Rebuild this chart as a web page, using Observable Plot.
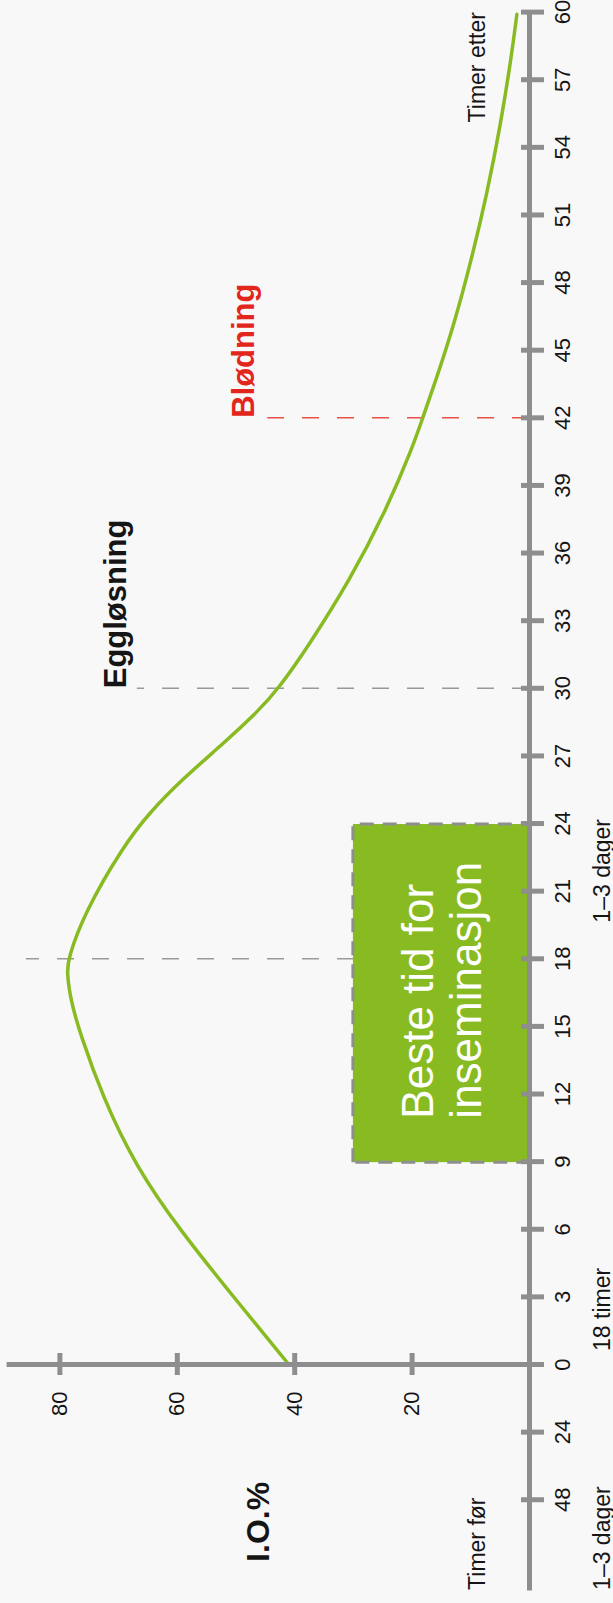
<!DOCTYPE html>
<html>
<head>
<meta charset="utf-8">
<script src="https://cdn.jsdelivr.net/npm/d3@7"></script>
<script src="https://cdn.jsdelivr.net/npm/@observablehq/plot@0.6"></script>
<style>
  html, body { margin: 0; padding: 0; background: #f8f8f8; width: 613px; height: 1603px; overflow: hidden; }
  #chart { position: absolute; left: 0; top: 0; width: 1603px; height: 613px;
           transform-origin: 0 0; transform: translate(0, 1603px) rotate(-90deg); }
</style>
</head>
<body>
<div id="chart"></div>
<script>
// ---- data ----
const hours = [0, 2.9, 5.9, 8.8, 11.8, 14.7, 16.2, 17.4, 18, 20, 23, 24.5, 26, 27.4, 28.9, 30, 31.9, 34.8, 37.8, 40.7, 42, 43.7, 46.1, 49, 52, 54.9, 57.9, 59.9];
const io    = [41, 50.1, 59.4, 67.1, 72.6, 76.6, 78.2, 78.8, 78.6, 75.9, 69.2, 64.7, 59.0, 52.8, 46.5, 42.7, 37.6, 30.6, 24.6, 19.9, 18.2, 15.9, 12.9, 9.9, 7.2, 5.0, 3.15, 2.15];

const hourTicks      = [-6, -3, 0, 3, 6, 9, 12, 15, 18, 21, 24, 27, 30, 33, 36, 39, 42, 45, 48, 51, 54, 57, 60];
const hourTickLabels = ["48", "24", "0", "3", "6", "9", "12", "15", "18", "21", "24", "27", "30", "33", "36", "39", "42", "45", "48", "51", "54", "57", "60"];
const ioTicks        = [20, 40, 60, 80];
const hourDomain     = [-10, 60];
const ioAxisTop      = 89;

const eventHours  = [18, 30, 42];
const eventTops   = [85.7, 66.8, 44.6];
const eventLabels = ["", "Eggløsning", "Blødning"];

const windowRange = [9, 24];
const windowTop   = 30;
const windowText  = "Beste tid for\ninseminasjon";

const periodLabels = ["1–3 dager", "18 timer", "1–3 dager"];
const periodAt     = [-10, 0.6, 24.2];
const periodAnchor = ["start", "start", "end"];

// ---- tables ----
const curve = hours.map((h, i) => ({hour: h, io: io[i]}));
const events = eventHours.map((h, i) => ({hour: h, top: eventTops[i], label: eventLabels[i]}));
const tickLabel = new Map(hourTicks.map((t, i) => [t, hourTickLabels[i]]));
const periods = periodLabels.map((t, i) => ({text: t, hour: periodAt[i], anchor: periodAnchor[i]}));

const grey = "#8e8e8e";
const green = "#88bb22";
const red = "#e3261b";
const ink = "#151515";
const font = "'Liberation Sans', Arial, Helvetica, sans-serif";

const chart = Plot.plot({
  width: 1603,
  height: 613,
  marginLeft: 250,
  marginBottom: 92,
  marginTop: 0,
  marginRight: 0,
  style: {background: "#f8f8f8", fontFamily: font, overflow: "visible"},
  x: {domain: hourDomain, range: [12.6, 1590.4]},
  y: {domain: [0, 80], range: [529, 59.4]},
  marks: [
    // event lines
    Plot.ruleX(events.filter(d => d.hour !== 42), {x: "hour", y1: 0, y2: "top", stroke: "#999", strokeWidth: 1.5, strokeDasharray: "17,18"}),
    Plot.ruleX(events.filter(d => d.hour === 42), {x: "hour", y1: 0, y2: "top", stroke: red, strokeOpacity: 0.8, strokeWidth: 1.5, strokeDasharray: "17,18"}),
    Plot.text(events.filter(d => d.label === "Eggløsning"), {x: "hour", y: "top", text: "label", textAnchor: "start", lineAnchor: "middle", dy: -21, fontSize: 31, fontWeight: "bold", fill: ink}),
    Plot.text(events.filter(d => d.label === "Blødning"), {x: "hour", y: "top", text: "label", textAnchor: "start", lineAnchor: "middle", dy: -24, fontSize: 31, fontWeight: "bold", fill: red}),
    // insemination window
    Plot.rect([{x1: windowRange[0], x2: windowRange[1], y1: 0, y2: windowTop}], {x1: "x1", x2: "x2", y1: "y1", y2: "y2", fill: green, stroke: grey, strokeWidth: 3, strokeDasharray: "14,9"}),
    Plot.text([windowText], {x: windowRange[0], y: windowTop / 2, text: d => d, textAnchor: "start", lineAnchor: "middle", dx: 43, fontSize: 44, lineHeight: 48 / 44, fill: "white", ariaLabel: "window-label"}),
    // curve
    Plot.line(curve, {x: "hour", y: "io", stroke: green, strokeWidth: 3.5, curve: "basis"}),
    // axes lines
    Plot.ruleY([0], {x1: hourDomain[0], x2: hourDomain[1], stroke: grey, strokeWidth: 5}),
    Plot.ruleX([0], {y1: 0, y2: ioAxisTop, stroke: grey, strokeWidth: 5}),
    Plot.axisX({ticks: hourTicks, tickFormat: d => tickLabel.get(d), anchor: "bottom", tickSize: 23, tickPadding: 10, fontSize: 22, stroke: grey, strokeWidth: 5, color: ink, fill: ink, label: null}),
    Plot.axisY({ticks: ioTicks, anchor: "left", tickSize: 22, tickPadding: 17, fontSize: 22, stroke: grey, strokeWidth: 5, color: ink, fill: ink, label: null}),
    // side labels
    Plot.text(["I.O.%"], {x: hourDomain[0], y: 0, text: d => d, textAnchor: "start", lineAnchor: "middle", dx: 28, dy: -271, fontSize: 32, fontWeight: "bold", fill: ink}),
    Plot.text(["Timer før"], {x: hourDomain[0], y: 0, text: d => d, textAnchor: "start", lineAnchor: "middle", dy: -52, fontSize: 23, fill: ink}),
    Plot.text(["Timer etter"], {x: hourDomain[1], y: 0, text: d => d, textAnchor: "end", lineAnchor: "middle", dy: -52, fontSize: 23, fill: ink}),
    Plot.text(periods.filter(d => d.anchor === "start"), {x: "hour", y: 0, text: "text", textAnchor: "start", lineAnchor: "middle", dy: 73, fontSize: 23, fill: ink}),
    Plot.text(periods.filter(d => d.anchor === "end"), {x: "hour", y: 0, text: "text", textAnchor: "end", lineAnchor: "middle", dy: 73, fontSize: 23, fill: ink})
  ]
});

d3.select(chart).select('g[aria-label="window-label"]').attr("letter-spacing", "0.8px");
document.getElementById("chart").appendChild(chart);
</script>
</body>
</html>
